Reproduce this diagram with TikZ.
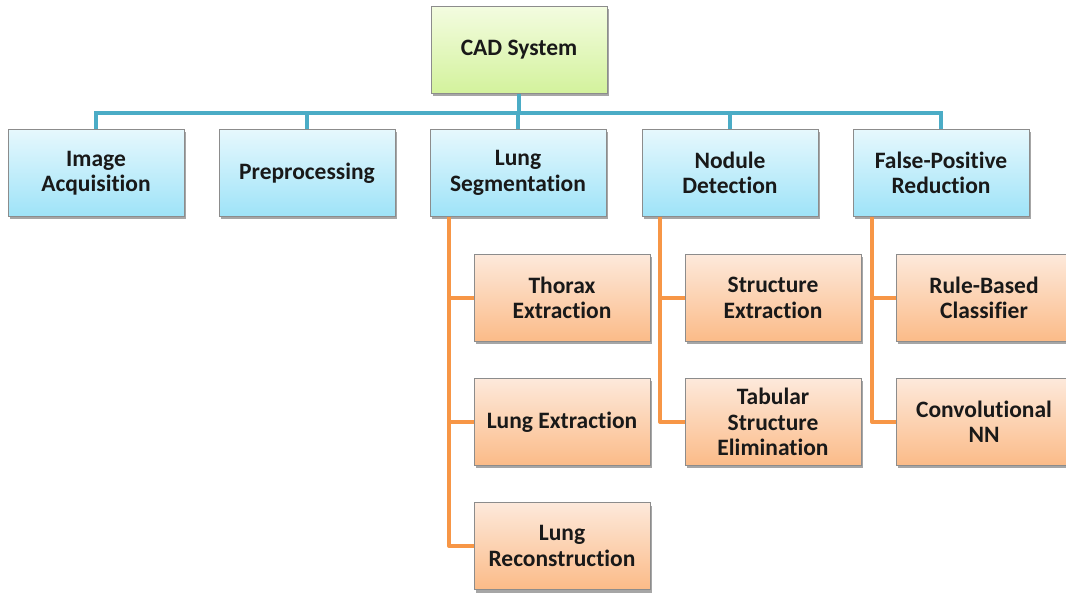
\documentclass[tikz,border=0pt]{standalone}
\usepackage{fontspec}
\setmainfont{Carlito}[Ligatures=NoCommon]
\usetikzlibrary{shadows}
\definecolor{lnblue}{HTML}{4BACC6}
\definecolor{lnorange}{HTML}{F79646}
\definecolor{edgegray}{HTML}{8C8C8C}
\definecolor{topgreen}{HTML}{F3FCE0}
\definecolor{botgreen}{HTML}{D3F29C}
\definecolor{topblue}{HTML}{E6F8FD}
\definecolor{botblue}{HTML}{9EE3F8}
\definecolor{toporange}{HTML}{FDE9DB}
\definecolor{botorange}{HTML}{FBBB88}
\tikzset{
  x=1pt, y=-1pt,
  box/.style={draw=edgegray, line width=0.8pt, minimum width=176pt, minimum height=87pt,
    align=center, font=\bfseries\fontsize{23.5}{25.5}\selectfont, text=black!90,
    drop shadow={shadow xshift=2pt, shadow yshift=-3pt, opacity=0.35, fill=black}},
  rootbox/.style={box, top color=topgreen, bottom color=botgreen},
  stagebox/.style={box, top color=topblue, bottom color=botblue},
  taskbox/.style={box, top color=toporange, bottom color=botorange},
  bluelink/.style={draw=lnblue, line width=4pt},
  orangelink/.style={draw=lnorange, line width=4pt, line join=round}
}
\begin{document}
\begin{tikzpicture}
\useasboundingbox (0,0) rectangle (1066,593);

% root
\node[rootbox] (cad) at (519,50) {CAD System};
\coordinate (bus) at (519,113);

% processing stages
\node[stagebox] (acq) at (96,173) {Image\\Acquisition};
\node[stagebox] (pre) at (307,173) {Preprocessing};
\node[stagebox] (seg) at (518,173) {Lung\\Segmentation};
\node[stagebox] (det) at (730,173) {Nodule\\Detection};
\node[stagebox] (fpr) at (941,173) {False-Positive\\Reduction};

% sub-tasks
\node[taskbox] (thx) at (562,298) {Thorax\\Extraction};
\node[taskbox] (lex) at (562,422) {Lung Extraction};
\node[taskbox] (lrc) at (562,546) {Lung\\Reconstruction};
\node[taskbox] (sex) at (773,298) {Structure\\Extraction};
\node[taskbox] (tse) at (773,422) {Tabular\\Structure\\Elimination};
\node[taskbox] (rbc) at (984,298) {Rule-Based\\Classifier};
\node[taskbox] (cnn) at (984,422) {Convolutional\\NN};

% tree connectors: root to stages
\draw[bluelink] (cad.south) -- (bus);
\draw[bluelink] (acq.north) |- (bus) -| (fpr.north);
\draw[bluelink] (pre.north) -- (pre.north |- bus);
\draw[bluelink] (seg.north) -- (seg.north |- bus);
\draw[bluelink] (det.north) -- (det.north |- bus);

% stages to sub-tasks
\draw[orangelink] (seg.south -| 449,0) |- (lrc.west);
\draw[orangelink] (449,298) -- (thx.west);
\draw[orangelink] (449,422) -- (lex.west);
\draw[orangelink] (det.south -| 660,0) |- (tse.west);
\draw[orangelink] (660,298) -- (sex.west);
\draw[orangelink] (fpr.south -| 872,0) |- (cnn.west);
\draw[orangelink] (872,298) -- (rbc.west);
\end{tikzpicture}
\end{document}
